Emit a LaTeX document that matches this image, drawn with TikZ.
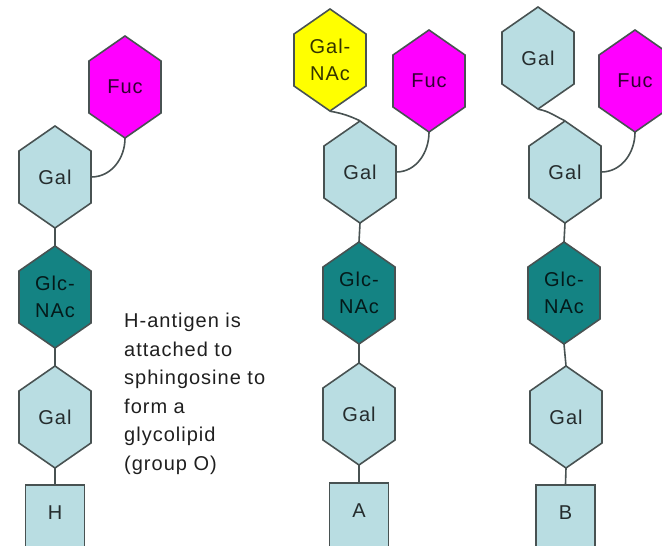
\documentclass[tikz,border=0pt]{standalone}
\usepackage{fontspec}
\setmainfont{Liberation Sans}[LetterSpace=5]
\definecolor{galblue}{RGB}{185,221,226}
\definecolor{glcteal}{RGB}{20,131,131}
\definecolor{fucmag}{RGB}{255,0,255}
\definecolor{nacyel}{RGB}{255,255,0}
\definecolor{edgegray}{RGB}{72,82,82}
\tikzset{
  hexline/.style={draw=edgegray, line width=1.6pt, line join=miter},
  hexlabel/.style={minimum width=72pt, minimum height=102pt, inner sep=0pt, align=center,
    font=\fontsize{20}{27}\selectfont},
  basebox/.style={draw=edgegray, line width=1.6pt, fill=galblue, minimum width=59pt, minimum height=64pt,
    inner sep=0pt, text height=14pt, text depth=9pt, font=\fontsize{20}{27}\selectfont,
    text=black!80!galblue, anchor=north},
  link/.style={draw=edgegray, line width=1.6pt},
  note/.style={align=left, inner sep=0pt, anchor=north west, font=\fontsize{20}{28.5}\selectfont, text=black!88}
}
\newcommand\hexnode[5]{%
  \filldraw[hexline, fill=#4] (#2,#3) ++(0,-51) -- ++(36,25) -- ++(0,52) -- ++(-36,25) -- ++(-36,-25) -- ++(0,-52) -- cycle;
  \node[hexlabel, text=black!80!#4] (#1) at (#2,#3) {#5};
}
\begin{document}
\begin{tikzpicture}[x=1pt,y=-1pt]
\useasboundingbox (0,0) rectangle (662,546);
% left column (H)
\hexnode{lfuc}{125}{87}{fucmag}{Fuc}
\hexnode{lgal}{55}{177}{galblue}{Gal}
\hexnode{lglc}{55}{297}{glcteal}{Glc-\\NAc}
\hexnode{lgalb}{55}{417}{galblue}{Gal}
\node[basebox] (hbox) at (55,484) {H};
\draw[link] (lfuc.south) to[out=-90,in=0] (lgal.east);
\draw[link] (lgal.south) -- (lglc.north);
\draw[link] (lglc.south) -- (lgalb.north);
\draw[link] (lgalb.south) -- (hbox.north);
\node[note] (txt) at (124,313) {H-antigen is\\attached to\\sphingosine to\\form a\\glycolipid\\(group O)};
% middle column (A)
\hexnode{mnac}{330}{60}{nacyel}{Gal-\\NAc}
\hexnode{mfuc}{429}{81}{fucmag}{Fuc}
\hexnode{mgal}{360}{172}{galblue}{Gal}
\hexnode{mglc}{359}{293}{glcteal}{Glc-\\NAc}
\hexnode{mgalb}{359}{414}{galblue}{Gal}
\node[basebox] (abox) at (359,482) {A};
\draw[link] (mnac.south) to[out=-10,in=155] (mgal.north);
\draw[link] (mfuc.south) to[out=-90,in=0] (mgal.east);
\draw[link] (mgal.south) -- (mglc.north);
\draw[link] (mglc.south) -- (mgalb.north);
\draw[link] (mgalb.south) -- (abox.north);
% right column (B)
\hexnode{rtop}{538}{58}{galblue}{Gal}
\hexnode{rfuc}{635}{81}{fucmag}{Fuc}
\hexnode{rgal}{565}{172}{galblue}{Gal}
\hexnode{rglc}{564}{293}{glcteal}{Glc-\\NAc}
\hexnode{rgalb}{566}{417}{galblue}{Gal}
\node[basebox] (bbox) at (565.5,484) {B};
\draw[link] (rtop.south) to[out=-10,in=155] (rgal.north);
\draw[link] (rfuc.south) to[out=-90,in=0] (rgal.east);
\draw[link] (rgal.south) -- (rglc.north);
\draw[link] (rglc.south) -- (rgalb.north);
\draw[link] (rgalb.south) -- (bbox.north);
\end{tikzpicture}
\end{document}
